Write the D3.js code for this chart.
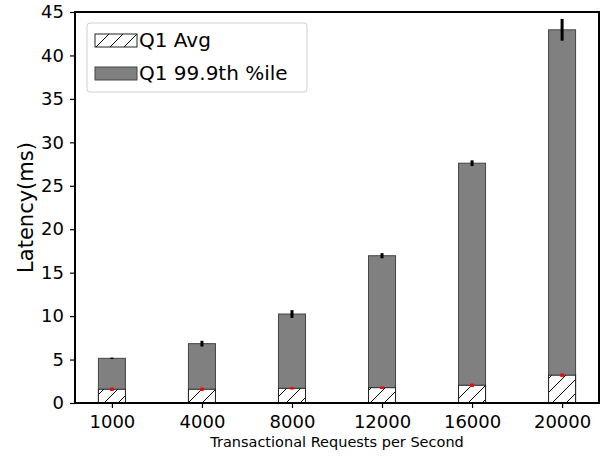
<!DOCTYPE html>
<html>
<head>
<meta charset="utf-8">
<script src="https://cdn.jsdelivr.net/npm/d3@7"></script>
<style>
  body { margin: 0; background: #fff; }
  svg { display: block; font-family: "DejaVu Sans", sans-serif; }
</style>
</head>
<body>
<div id="chart"></div>
<script>
const rates = ['1000', '4000', '8000', '12000', '16000', '20000'];
const avgLatency = [1.58, 1.58, 1.69, 1.76, 2.04, 3.2];
const avgErr = [0.2, 0.2, 0.15, 0.15, 0.2, 0.2];
const p999Latency = [5.14, 6.83, 10.24, 16.95, 27.6, 42.95];
const p999Err = [0.08, 0.33, 0.45, 0.3, 0.33, 1.25];
const yTicks = [0, 5, 10, 15, 20, 25, 30, 35, 40, 45];
const legendLabels = ['Q1 Avg', 'Q1 99.9th %ile'];

const width = 606, height = 458;
const margin = { top: 12, right: 7, bottom: 55, left: 75 };
const innerW = width - margin.left - margin.right;
const innerH = height - margin.top - margin.bottom;

const svg = d3.select('#chart').append('svg')
  .attr('width', width)
  .attr('height', height);

const defs = svg.append('defs');
const hatch = defs.append('pattern')
  .attr('id', 'hatch')
  .attr('patternUnits', 'userSpaceOnUse')
  .attr('width', 14)
  .attr('height', 14);
hatch.append('rect').attr('width', 14).attr('height', 14).attr('fill', '#fff');
hatch.append('path')
  .attr('d', 'M-2,2 L2,-2 M0,14 L14,0 M12,16 L16,12')
  .attr('stroke', '#000')
  .attr('stroke-width', 1);

const x = d3.scalePoint()
  .domain(rates)
  .range([0, innerW])
  .padding(0.41);

const y = d3.scaleLinear()
  .domain([0, 45])
  .range([innerH, 0]);

const barW = 27;

const g = svg.append('g')
  .attr('transform', `translate(${margin.left},${margin.top})`);

// 99.9th percentile bars
g.selectAll('.p999')
  .data(rates)
  .enter()
  .append('rect')
  .attr('class', 'p999')
  .attr('x', d => x(d) - barW / 2)
  .attr('y', (d, i) => y(p999Latency[i]))
  .attr('width', barW)
  .attr('height', (d, i) => innerH - y(p999Latency[i]))
  .attr('fill', '#808080')
  .attr('stroke', '#444')
  .attr('stroke-width', 1);

// average bars (hatched)
g.selectAll('.avg')
  .data(rates)
  .enter()
  .append('rect')
  .attr('class', 'avg')
  .attr('x', d => x(d) - barW / 2)
  .attr('y', (d, i) => y(avgLatency[i]))
  .attr('width', barW)
  .attr('height', (d, i) => innerH - y(avgLatency[i]))
  .attr('fill', 'url(#hatch)')
  .attr('stroke', '#222')
  .attr('stroke-width', 1);

// error bars
g.selectAll('.p999-err')
  .data(rates)
  .enter()
  .append('line')
  .attr('class', 'p999-err')
  .attr('x1', d => x(d))
  .attr('x2', d => x(d))
  .attr('y1', (d, i) => y(p999Latency[i] - p999Err[i]))
  .attr('y2', (d, i) => y(p999Latency[i] + p999Err[i]))
  .attr('stroke', '#000')
  .attr('stroke-width', 3);

g.selectAll('.avg-err')
  .data(rates)
  .enter()
  .append('line')
  .attr('class', 'avg-err')
  .attr('x1', d => x(d))
  .attr('x2', d => x(d))
  .attr('y1', (d, i) => y(avgLatency[i] - avgErr[i]))
  .attr('y2', (d, i) => y(avgLatency[i] + avgErr[i]))
  .attr('stroke', '#ff0000')
  .attr('stroke-width', 3.5);

// axes
const xAxis = g.append('g')
  .attr('transform', `translate(0,${innerH})`)
  .call(d3.axisBottom(x).tickSize(5).tickPadding(7));
const yAxis = g.append('g')
  .call(d3.axisLeft(y).tickValues(yTicks).tickSize(5).tickPadding(6));

[xAxis, yAxis].forEach(a => {
  a.select('.domain').remove();
  a.selectAll('.tick line').attr('stroke', '#000').attr('stroke-width', 1.2);
  a.selectAll('.tick text')
    .attr('fill', '#000')
    .style('font-family', '"DejaVu Sans", sans-serif')
    .style('font-size', '18px');
});

// frame
g.append('rect')
  .attr('width', innerW)
  .attr('height', innerH)
  .attr('fill', 'none')
  .attr('stroke', '#000')
  .attr('stroke-width', 2);

// axis labels
svg.append('text')
  .attr('x', margin.left + innerW / 2)
  .attr('y', 447)
  .attr('text-anchor', 'middle')
  .style('font-size', '14.5px')
  .text('Transactional Requests per Second');

svg.append('text')
  .attr('transform', `translate(33,${margin.top + innerH / 2}) rotate(-90)`)
  .attr('text-anchor', 'middle')
  .style('font-size', '21px')
  .text('Latency(ms)');

// legend
const legend = svg.append('g')
  .attr('transform', 'translate(87,23)');

legend.append('rect')
  .attr('width', 220)
  .attr('height', 69)
  .attr('rx', 3)
  .attr('fill', '#fff')
  .attr('fill-opacity', 0.8)
  .attr('stroke', '#d0d0d0')
  .attr('stroke-width', 1);

const legendItems = legend.selectAll('.legend-item')
  .data(legendLabels)
  .enter()
  .append('g')
  .attr('class', 'legend-item')
  .attr('transform', (d, i) => `translate(8,${11 + i * 33})`);

legendItems.append('rect')
  .attr('width', 42)
  .attr('height', 13)
  .attr('fill', (d, i) => i === 0 ? 'url(#hatch)' : '#808080')
  .attr('stroke', (d, i) => i === 0 ? '#222' : '#444')
  .attr('stroke-width', 1);

legendItems.append('text')
  .attr('x', 44)
  .attr('y', 13)
  .style('font-size', '20px')
  .text(d => d);
</script>
</body>
</html>
